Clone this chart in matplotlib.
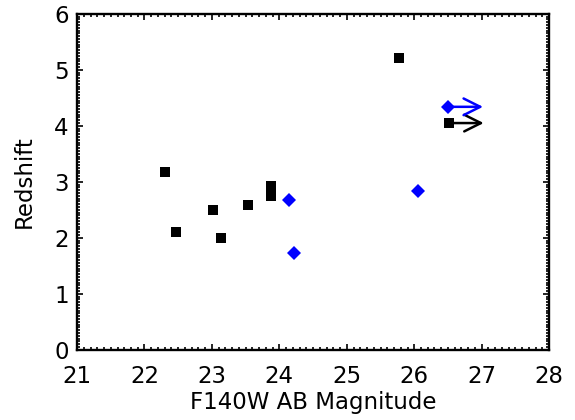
import numpy as np
import matplotlib
matplotlib.use('Agg')
import matplotlib.pyplot as plt
from matplotlib.ticker import MultipleLocator

# measured sample (black squares)
sq_mag = [22.31, 22.47, 23.01, 23.14, 23.54, 23.88, 23.88, 25.78]
sq_z = [3.17, 2.10, 2.49, 1.99, 2.58, 2.92, 2.74, 5.21]

# comparison sample (blue diamonds)
dm_mag = [24.14, 24.22, 26.05]
dm_z = [2.67, 1.73, 2.83]

# lower limits on magnitude (arrows pointing faintward)
lim_mag = [26.51, 26.50]
lim_z = [4.05, 4.34]
lim_col = ['black', 'blue']
lim_mark = ['s', 'D']
arrow_len = 0.52

xticks = [21, 22, 23, 24, 25, 26, 27, 28]
yticks = [0, 1, 2, 3, 4, 5, 6]

sq_ms = 6.8
dm_ms = 6.8

plt.rcParams['font.family'] = 'DejaVu Sans'
fig = plt.figure(figsize=(5.75, 4.2), dpi=100)
ax = fig.add_axes([0.134, 0.167, 0.821, 0.800])

ax.plot(sq_mag, sq_z, 's', color='black', ms=sq_ms, mew=0, ls='none')
ax.plot(dm_mag, dm_z, 'D', color='blue', ms=dm_ms, mew=0, ls='none')

for m, z, c, mk in zip(lim_mag, lim_z, lim_col, lim_mark):
    ax.annotate('', xy=(m + arrow_len, z), xytext=(m, z),
                arrowprops=dict(arrowstyle='->,head_length=0.6,head_width=0.3',
                                color=c, lw=1.8, mutation_scale=20,
                                shrinkA=0, shrinkB=0))
    ax.plot([m], [z], mk, color=c, ms=sq_ms if mk == 's' else dm_ms, mew=0)

ax.set_xlim(21, 28)
ax.set_ylim(0, 6)
ax.set_xticks(xticks)
ax.set_yticks(yticks)
ax.xaxis.set_minor_locator(MultipleLocator(0.1))
ax.yaxis.set_minor_locator(MultipleLocator(0.05))
ax.tick_params(which='both', direction='in', top=True, right=True,
               labelsize=16.5, width=1.2, color='black')
ax.tick_params(which='major', length=4.0)
ax.tick_params(which='minor', length=2.2)
ax.tick_params(axis='x', which='major', pad=11)
ax.tick_params(axis='y', which='major', pad=6)
for s in ax.spines.values():
    s.set_linewidth(1.7)

ax.set_xlabel('F140W AB Magnitude', fontsize=16.5, labelpad=2)
ax.set_ylabel('Redshift', fontsize=16.5, labelpad=13)

fig.savefig('out.png', dpi=100)
